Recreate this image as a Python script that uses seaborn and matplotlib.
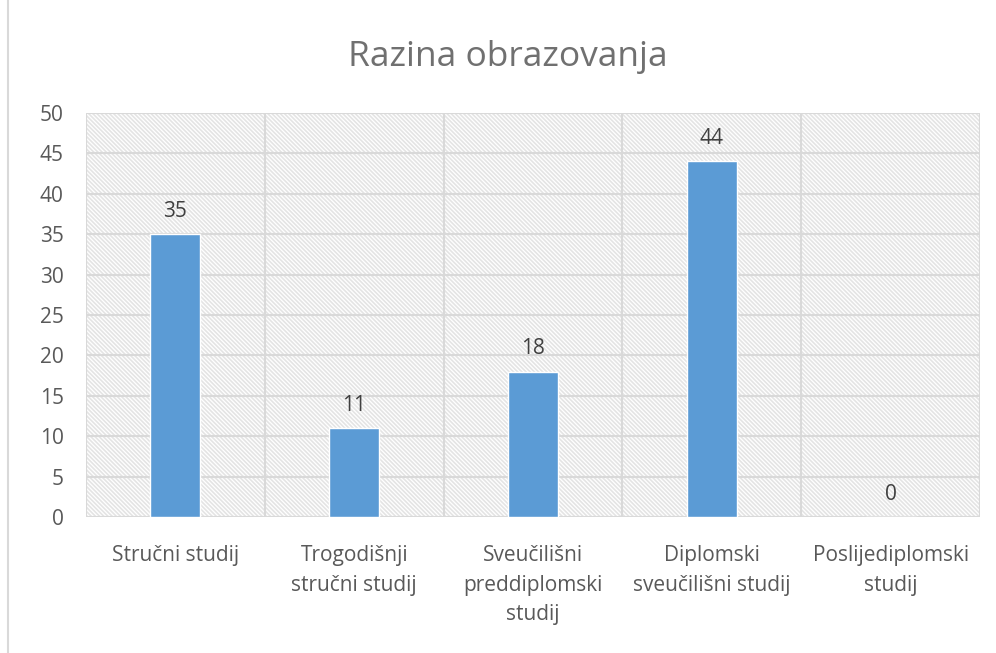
import matplotlib
matplotlib.use("Agg")
import matplotlib.pyplot as plt
import seaborn as sns
import pandas as pd
from matplotlib.patches import Rectangle
from matplotlib.lines import Line2D

categories = ["Stručni studij", "Trogodišnji\nstručni studij", "Sveučilišni\npreddiplomski\nstudij",
              "Diplomski\nsveučilišni studij", "Poslijediplomski\nstudij"]
values = [35, 11, 18, 44, 0]
yticks = [0, 5, 10, 15, 20, 25, 30, 35, 40, 45, 50]
title = "Razina obrazovanja"

sns.set_theme(style="white")
plt.rcParams['font.family'] = ['Open Sans', 'DejaVu Sans']
plt.rcParams['hatch.linewidth'] = 1.2

df = pd.DataFrame({"cat": categories, "val": values})

fig = plt.figure(figsize=(9.96, 6.53), dpi=100)
ax = fig.add_axes([86/996, 1-517/653, (980-86)/996, (517-113)/653])

grid_c = "#D9D9D9"
ax.add_patch(Rectangle((0, 0), 1, 1, transform=ax.transAxes, fill=False,
                       edgecolor="#E4E4E4", linewidth=0, hatch='\\' * 8, zorder=0))

sns.barplot(data=df, x="cat", y="val", color="#5B9BD5", width=0.28, saturation=1,
            ax=ax, zorder=3)

ax.set_ylim(0, 50)
ax.set_xlim(-0.5, len(categories) - 0.5)
ax.set_yticks(yticks)
for y in yticks:
    ax.axhline(y, color=grid_c, lw=1.5, zorder=1)
for i in range(len(categories) + 1):
    ax.axvline(i - 0.5, color=grid_c, lw=1.5, zorder=1)
for s in ax.spines.values():
    s.set_visible(False)

ax.set_xlabel("")
ax.set_ylabel("")
ax.tick_params(axis='y', length=0, pad=16, labelsize=15, labelcolor="#595959")
ax.tick_params(axis='x', length=0, pad=20, labelsize=15, labelcolor="#595959")
for lab in ax.get_xticklabels():
    lab.set_linespacing(1.55)

for i, v in enumerate(values):
    ax.annotate(str(v), (i, v), xytext=(0, 9), textcoords="offset points",
                ha="center", va="bottom", fontsize=15, color="#404040", zorder=5)

fig.text(508/996, 1-57/653, title, ha="center", va="center", fontsize=25.5, color="#707070")
fig.add_artist(Line2D([8/996, 8/996], [0, 1], transform=fig.transFigure, color=grid_c, lw=1.5))

fig.savefig("out.png", dpi=100, facecolor="white")
